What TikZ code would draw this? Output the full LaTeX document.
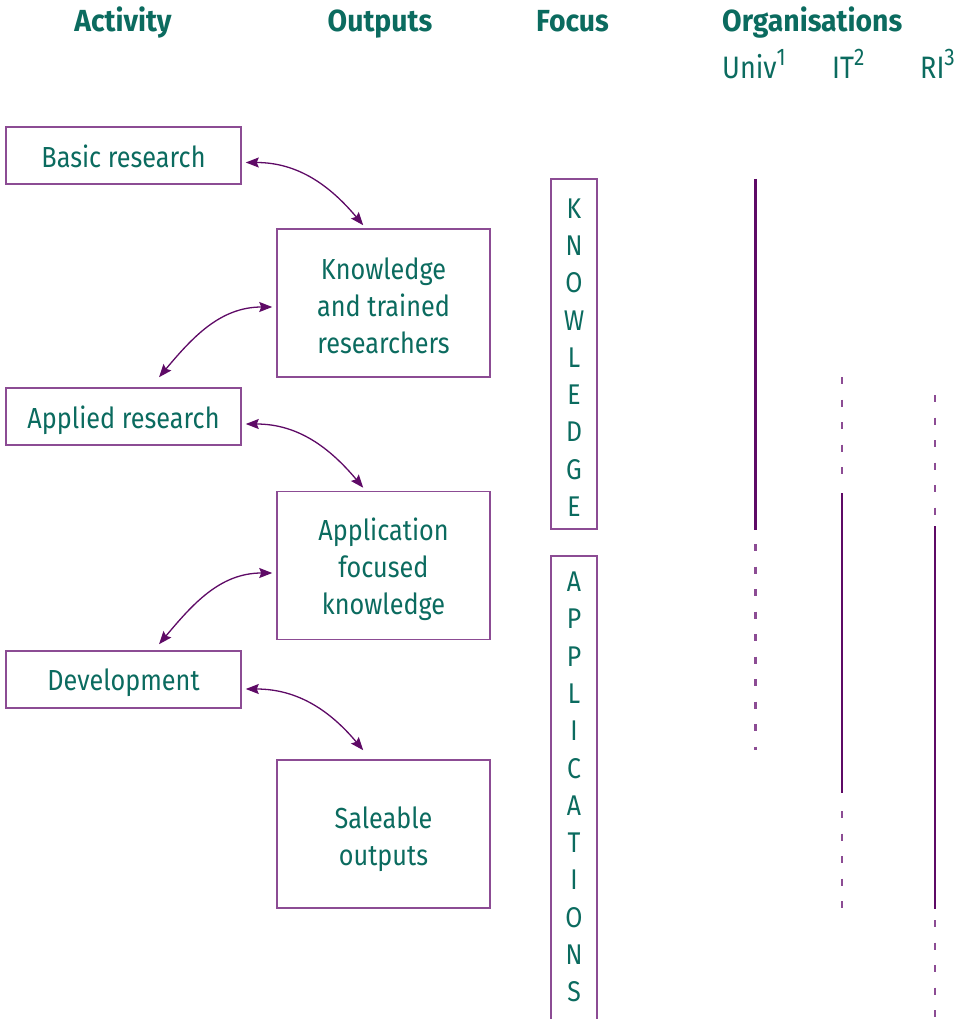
\documentclass[tikz,border=0pt]{standalone}
\usepackage{fontspec}
\setmainfont{Fira Sans}[FakeStretch=0.87,BoldFeatures={FakeStretch=0.93}]
\usetikzlibrary{arrows.meta,calc}
\definecolor{txt}{HTML}{0B6B5F}
\definecolor{pline}{HTML}{5E0A66}
\definecolor{pbox}{HTML}{8C4C94}
\newcommand{\supnum}[1]{\raisebox{13pt}{\fontsize{24}{24}\selectfont #1}}
\newcommand{\tstrut}[1]{\rule{0pt}{#1}}
\begin{document}
\begin{tikzpicture}[x=1pt,y=-1pt,
  every node/.style={text=txt,inner sep=0pt},
  body/.style={font=\fontsize{29}{37}\selectfont},
  head/.style={font=\fontsize{30.5}{36}\selectfont\bfseries},
  org/.style={font=\fontsize{31}{36}\selectfont},
  actbox/.style={draw=pbox,line width=1.5pt,minimum width=235pt,minimum height=57pt,body,align=center},
  outbox/.style={draw=pbox,line width=1.5pt,minimum width=213pt,minimum height=148pt,body,align=center},
  focusframe/.style={draw=pbox,line width=1.5pt,minimum width=46pt,minimum height=350pt},
  boxline/.style={draw=pbox,line width=1.5pt},
  letters/.style={align=center,font=\fontsize{28.5}{37.3}\selectfont},
  link/.style={pline,line width=1.3pt,{Stealth[length=13pt,width=10pt,inset=2pt]}-{Stealth[length=13pt,width=10pt,inset=2pt]}},
  orgsolid/.style={pline,line width=2.5pt},
  orgdash/.style={pbox,line width=2.1pt,dash pattern=on 7pt off 15.5pt},
]
\useasboundingbox (0,0) rectangle (970,1019);

% headers
\node[head,anchor=base] (hact) at (123,32) {Activity};
\node[head,anchor=base] (hout) at (380,32) {Outputs};
\node[head,anchor=base] (hfoc) at (572.5,32) {Focus};
\node[head,anchor=base west] (horg) at (722,32) {Organisations};
\node[org,anchor=base west] (huniv) at (722,79) {Univ\supnum{1}};
\node[org,anchor=base west] (hit) at (832,79) {IT\supnum{2}};
\node[org,anchor=base west] (hri) at (920,79) {RI\supnum{3}};

% activity boxes
\node[actbox] (basic) at (123.5,155.5) {\tstrut{24pt}Basic research};
\node[actbox] (applied) at (123.5,416.5) {\tstrut{31pt}Applied research};
\node[actbox] (dev) at (123.5,679.5) {\tstrut{28pt}Development};

% output boxes
\node[outbox] (know) at (383.5,303) {\tstrut{28pt}Knowledge\\and trained\\researchers};
\node[outbox] (appfoc) at (383.5,565.5) {\tstrut{29.5pt}Application\\focused\\knowledge};
\node[outbox] (sale) at (383.5,834) {\tstrut{31.5pt}Saleable\\outputs};

% focus
\node[focusframe] (kbox) at (574,354) {};
\node[letters] (ktext) at (574,357.5) {K\\N\\O\\W\\L\\E\\D\\G\\E};
\node[letters] (atext) at (574,787) {A\\P\\P\\L\\I\\C\\A\\T\\I\\O\\N\\S};
\draw[boxline] (551,1030) -- (551,556) -- (597,556) -- (597,1030);

% connectors
\draw[link] ($(basic.east)+(4,7)$) to[out=0,in=130] ($(know.north west)+(87,-3)$);
\draw[link] ($(know.west)+(-4,4)$) to[out=180,in=50] ($(applied.north)+(35.5,-10)$);
\draw[link] ($(applied.east)+(4,7.5)$) to[out=0,in=130] ($(appfoc.north west)+(87,-3)$);
\draw[link] ($(appfoc.west)+(-4,7.5)$) to[out=180,in=50] ($(dev.north)+(35.5,-6)$);
\draw[link] ($(dev.east)+(4,9.5)$) to[out=0,in=130] ($(sale.north west)+(87,-9)$);

% organisation lines
\draw[orgsolid] (755.5,179) -- (755.5,530);
\draw[orgdash] (755.5,544) -- (755.5,750);
\draw[orgdash] (842,377) -- (842,476);
\draw[orgsolid] (842,493) -- (842,793);
\draw[orgdash] (842,811) -- (842,910);
\draw[orgdash] (935,395) -- (935,521);
\draw[orgsolid] (935,526) -- (935,909);
\draw[orgdash] (935,920) -- (935,1030);
\end{tikzpicture}
\end{document}
